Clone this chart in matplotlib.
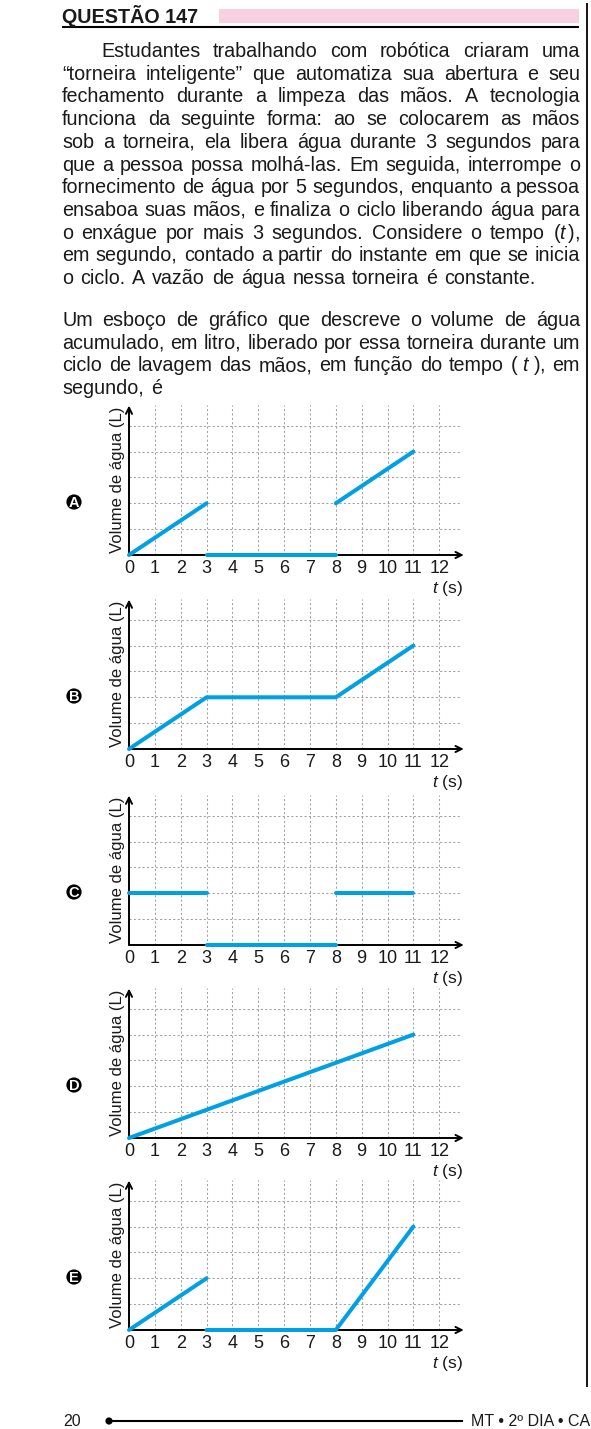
import matplotlib
matplotlib.use('Agg')
import matplotlib.pyplot as plt
from matplotlib.patches import Rectangle, Circle

plt.rcParams['font.family'] = ['Liberation Sans', 'DejaVu Sans']
plt.rcParams['mathtext.fontset'] = 'custom'
plt.rcParams['mathtext.rm'] = 'Liberation Sans'
plt.rcParams['mathtext.it'] = 'Liberation Sans:italic'

# ---------------- data ----------------
question_title = "QUESTÃO 147"
para1_lines = [
    "Estudantes trabalhando com robótica criaram uma",
    "“torneira inteligente” que automatiza sua abertura e seu",
    "fechamento durante a limpeza das mãos. A tecnologia",
    "funciona da seguinte forma: ao se colocarem as mãos",
    "sob a torneira, ela libera água durante 3 segundos para",
    "que a pessoa possa molhá-las. Em seguida, interrompe o",
    "fornecimento de água por 5 segundos, enquanto a pessoa",
    "ensaboa suas mãos, e finaliza o ciclo liberando água para",
    "o enxágue por mais 3 segundos. Considere o tempo ($t\\,$),",
    "em segundo, contado a partir do instante em que se inicia",
    "o ciclo. A vazão de água nessa torneira é constante.",
]
para2_lines = [
    "Um esboço de gráfico que descreve o volume de água",
    "acumulado, em litro, liberado por essa torneira durante um",
    "ciclo de lavagem das mãos, em função do tempo (~$t$~), em",
    "segundo, é",
]
footer_page = "20"
footer_text = "MT • 2º DIA • CADERNO 7 • AZUL"

time_ticks = list(range(0, 13))
volume_grid = [1, 2, 3, 4, 5]
y_label = "Volume de água (L)"
x_label = "$t$ (s)"
option_letters = ["A", "B", "C", "D", "E"]
# each option: list of polyline segments (time, volume)
opt_A_t = [[0, 3], [3, 8], [8, 11]]
opt_A_v = [[0, 2], [0, 0], [2, 4]]
opt_B_t = [[0, 3, 8, 11]]
opt_B_v = [[0, 2, 2, 4]]
opt_C_t = [[0, 3], [3, 8], [8, 11]]
opt_C_v = [[2, 2], [0, 0], [2, 2]]
opt_D_t = [[0, 11]]
opt_D_v = [[0, 4]]
opt_E_t = [[0, 3], [3, 8, 11]]
opt_E_v = [[0, 2], [0, 0, 4]]
options_t = [opt_A_t, opt_B_t, opt_C_t, opt_D_t, opt_E_t]
options_v = [opt_A_v, opt_B_v, opt_C_v, opt_D_v, opt_E_v]

# ---------------- figure ----------------
W, H, DPI = 591, 1429, 100
fig = plt.figure(figsize=(W / DPI, H / DPI), dpi=DPI)
bg = fig.add_axes([0, 0, 1, 1])
bg.set_xlim(0, W)
bg.set_ylim(H, 0)
bg.axis('off')

TXT = '#1a1a1a'
FS = 14.2

# header
bg.text(62, 23, question_title, fontsize=14.2, fontweight='bold', color=TXT,
        ha='left', va='baseline')
bg.add_patch(Rectangle((219, 9.3), 360, 13.4, facecolor='#f7d0e2', edgecolor='none'))
bg.plot([62, 579], [27, 27], color='black', lw=1.5, solid_capstyle='butt')
bg.plot([587, 587], [3, 1387], color='black', lw=1.3, solid_capstyle='butt')

renderer = fig.canvas.get_renderer()


def tw(s):
    t = bg.text(0, 0, s, fontsize=FS)
    w = t.get_window_extent(renderer=renderer).width
    t.remove()
    return w


def clean(s):
    return s.replace('~', ' ')


def draw_line(text, y, left, right, justify, free_gap=7.0):
    words = [clean(w) for w in text.split(' ')]
    widths = [tw(w) for w in words]
    if justify and len(words) > 1:
        gap = (right - left - sum(widths)) / (len(words) - 1)
    else:
        gap = free_gap
    x = left
    for w, wd in zip(words, widths):
        bg.text(x, y, w, fontsize=FS, color=TXT, ha='left', va='baseline')
        x += wd + gap


L, R, LH = 62, 580, 22.7
for i, line in enumerate(para1_lines):
    draw_line(line, 57 + i * LH, 101 if i == 0 else L, R, i < len(para1_lines) - 1)
for i, line in enumerate(para2_lines):
    draw_line(line, 326 + i * LH, L, R, i < len(para2_lines) - 1)

# footer
bg.text(63, 1421, footer_page, fontsize=11.5, color=TXT, ha='left', va='center')
bg.add_patch(Circle((109, 1421), 3.6, facecolor='black', edgecolor='none'))
bg.plot([109, 462], [1421, 1421], color='black', lw=1.5)
bg.text(471, 1421, footer_text, fontsize=11.5, color=TXT, ha='left', va='center')

# ---------------- charts ----------------
U = 25.85
X0 = 129
Y0s = [555, 749, 945, 1138, 1330]
XMAX, YMAX = 13.0, 5.9
BLUE = '#00a0e3'
GRID = '#a0a0a0'

for k, letter in enumerate(option_letters):
    y0 = Y0s[k]
    ax = fig.add_axes([X0 / W, (H - y0) / H, XMAX * U / W, YMAX * U / H])
    ax.set_xlim(0, XMAX)
    ax.set_ylim(0, YMAX)
    ax.axis('off')
    # grid
    for xt in time_ticks[1:]:
        ax.plot([xt, xt], [0, 5.8], color=GRID, lw=0.75,
                linestyle=(0, (2.0, 2.2)), clip_on=False, zorder=1)
    for yv in volume_grid:
        ax.plot([0, 12.8], [yv, yv], color=GRID, lw=0.75,
                linestyle=(0, (2.0, 2.2)), clip_on=False, zorder=1)
    # axes arrows
    ax.annotate('', xy=(12.95, 0), xytext=(0, 0),
                arrowprops=dict(arrowstyle='->', lw=1.4, color='black',
                                mutation_scale=11, shrinkA=0, shrinkB=0),
                annotation_clip=False, zorder=2)
    ax.annotate('', xy=(0, 5.78), xytext=(0, 0),
                arrowprops=dict(arrowstyle='->', lw=1.4, color='black',
                                mutation_scale=11, shrinkA=0, shrinkB=0),
                annotation_clip=False, zorder=2)
    # tick labels
    for xt in time_ticks:
        ax.text(xt, -0.52, str(xt), fontsize=13, color=TXT, ha='center', va='center',
                clip_on=False)
    ax.text(12.9, -1.28, x_label, fontsize=12.5, color=TXT, ha='right', va='center',
            clip_on=False)
    ax.text(-0.46, 2.9, y_label, fontsize=12, color=TXT, rotation=90,
            ha='center', va='center', clip_on=False)
    # data
    for ts, vs in zip(options_t[k], options_v[k]):
        ax.plot(ts, vs, color=BLUE, lw=2.9, solid_capstyle='round',
                solid_joinstyle='round', clip_on=False, zorder=3)
    # option letter badge
    cy = y0 - 2.05 * U
    bg.add_patch(Circle((74, cy), 7.6, facecolor='black', edgecolor='none'))
    bg.text(74, cy + 0.5, letter, fontsize=10.5, fontweight='bold', color='white',
            ha='center', va='center')

fig.savefig('out.png', dpi=DPI)
